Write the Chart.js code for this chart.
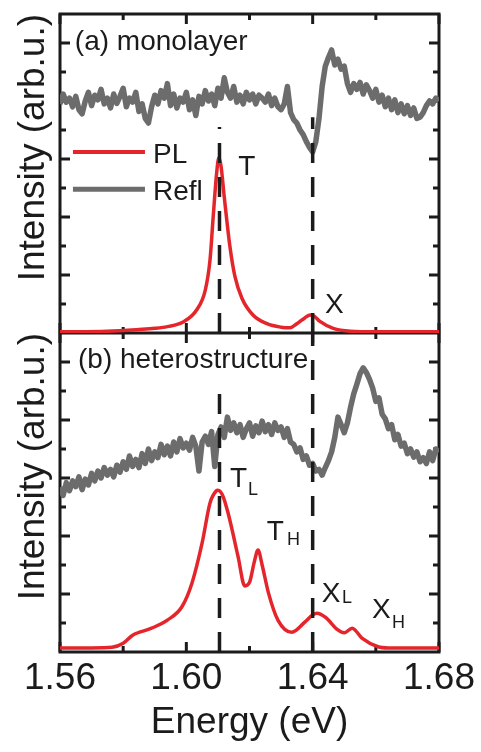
<!DOCTYPE html>
<html>
<head>
<meta charset="utf-8">
<script src="https://cdn.jsdelivr.net/npm/chart.js@4.4.1/dist/chart.umd.min.js"></script>
<style>
html,body{margin:0;padding:0;background:#fff;}
#wrap{width:481px;height:752px;position:relative;}
</style>
</head>
<body>
<div id="wrap"><canvas id="c" width="481" height="752"></canvas></div>
<script>
// ---------------- data ----------------
const energyGrid = [
 1.560,1.561,1.562,1.563,1.564,1.565,1.566,1.567,1.568,1.569,
 1.570,1.571,1.572,1.573,1.574,1.575,1.576,1.577,1.578,1.579,
 1.580,1.581,1.582,1.583,1.584,1.585,1.586,1.587,1.588,1.589,
 1.590,1.591,1.592,1.593,1.594,1.595,1.596,1.597,1.598,1.599,
 1.600,1.601,1.602,1.603,1.604,1.605,1.606,1.607,1.608,1.609,
 1.610,1.611,1.612,1.613,1.614,1.615,1.616,1.617,1.618,1.619,
 1.620,1.621,1.622,1.623,1.624,1.625,1.626,1.627,1.628,1.629,
 1.630,1.631,1.632,1.633,1.634,1.635,1.636,1.637,1.638,1.639,
 1.640,1.641,1.642,1.643,1.644,1.645,1.646,1.647,1.648,1.649,
 1.650,1.651,1.652,1.653,1.654,1.655,1.656,1.657,1.658,1.659,
 1.660,1.661,1.662,1.663,1.664,1.665,1.666,1.667,1.668,1.669,
 1.670,1.671,1.672,1.673,1.674,1.675,1.676,1.677,1.678,1.679,
 1.680];

// (a) monolayer reflectance
const reflA = [
 3.95,4.12,3.98,4.05,3.90,4.08,3.85,3.78,4.00,4.15,
 3.92,4.10,4.02,4.20,3.95,4.05,3.88,4.12,3.96,4.08,
 4.22,3.90,4.05,3.98,4.15,3.82,3.95,3.70,3.62,3.90,
 4.10,3.95,4.18,4.05,4.30,3.92,4.12,3.88,4.05,3.98,
 4.15,3.85,4.02,3.75,4.08,3.95,4.18,4.00,4.12,3.92,
 4.22,4.05,4.40,4.15,4.05,4.25,3.98,4.10,3.95,4.15,
 4.02,4.12,3.95,4.10,4.05,3.98,4.12,3.92,4.05,3.90,
 3.85,3.95,4.25,3.80,3.68,3.62,3.50,3.42,3.30,3.20,
 3.12,3.30,3.70,4.25,4.60,4.75,4.88,4.62,4.72,4.55,
 4.60,4.30,4.15,4.30,4.20,4.32,4.12,4.28,4.18,4.05,
 4.20,3.98,4.10,3.90,4.05,3.85,4.02,3.80,3.95,3.78,
 3.92,3.75,3.88,3.70,3.72,3.80,3.92,4.00,3.95,4.05,
 4.00];

// (b) heterostructure reflectance
const reflB = [
 2.84,2.70,2.92,2.78,2.95,2.85,3.02,2.80,2.98,2.88,
 3.08,2.95,3.12,3.00,3.18,3.05,3.15,3.02,3.22,3.10,
 3.28,3.15,3.38,3.20,3.32,3.18,3.42,3.25,3.50,3.30,
 3.45,3.35,3.58,3.40,3.55,3.38,3.62,3.45,3.68,3.52,
 3.60,3.48,3.70,3.55,3.12,3.62,3.72,3.58,3.80,3.20,
 3.75,3.88,3.70,4.05,3.82,3.95,3.78,3.92,3.70,3.85,
 3.95,3.72,3.90,3.78,3.98,3.80,3.92,3.75,3.95,3.82,
 3.88,3.70,3.85,3.62,3.58,3.45,3.52,3.32,3.38,3.22,
 3.25,3.12,3.15,3.05,3.18,3.30,3.45,3.70,4.05,3.92,
 3.78,3.95,4.22,4.45,4.62,4.80,4.90,4.82,4.70,4.55,
 4.32,4.38,4.10,4.02,3.85,3.92,3.66,3.75,3.55,3.60,
 3.42,3.50,3.36,3.45,3.28,3.35,3.25,3.45,3.30,3.50,
 3.45];

// (a) monolayer PL
const plAEnergy = [1.560,1.575,1.585,1.590,1.594,1.599,1.6033,1.606,1.6075,1.6085,1.6096,1.6103,1.611,1.612,1.6138,1.6154,1.6176,1.6211,1.6255,1.630,1.6328,1.635,1.6375,1.6392,1.6405,1.6423,1.6465,1.652,1.660,1.680];
const plAValue  = [0.02,0.03,0.06,0.08,0.11,0.19,0.40,0.74,1.26,2.00,2.76,3.02,2.87,2.35,1.49,0.97,0.60,0.31,0.16,0.10,0.09,0.16,0.26,0.31,0.29,0.20,0.08,0.03,0.02,0.02];

// (b) heterostructure PL
const plBEnergy = [1.560,1.570,1.5765,1.580,1.583,1.589,1.594,1.5986,1.6018,1.605,1.6075,1.6095,1.610,1.6115,1.6132,1.6164,1.6185,1.620,1.6215,1.6227,1.624,1.626,1.629,1.6334,1.6376,1.640,1.6414,1.644,1.648,1.650,1.6525,1.6556,1.6607,1.664,1.680];
const plBValue  = [0.07,0.07,0.08,0.15,0.29,0.41,0.55,0.78,1.19,1.88,2.57,2.78,2.79,2.70,2.40,1.64,1.14,1.20,1.55,1.76,1.50,1.02,0.55,0.34,0.52,0.64,0.67,0.60,0.38,0.33,0.41,0.24,0.09,0.07,0.07];

// dashed guide lines (T and X energies) and their upper ends per panel
const dashEnergies = [1.6105, 1.640];
const dashTopA = [3.55, 3.72];
const dashTopB = [4.64, 5.5];

// axis ticks
const xMajorTicks = [1.56, 1.60, 1.64, 1.68];
const xTickLabels = ['1.56', '1.60', '1.64', '1.68'];
const xMinorTicks = [1.58, 1.62, 1.66];
const yMajorTicks = [1, 2, 3, 4, 5];
const yMinorTicks = [0.5, 1.5, 2.5, 3.5, 4.5];

// text labels
const panelTitles = ['(a) monolayer', '(b) heterostructure'];
const seriesNames = ['PL', 'Refl'];

// ---------------- styles / layout ----------------
const FONT = "'Liberation Sans', Arial, Helvetica, sans-serif";
const RED = '#e4262c';
const GRAY = '#6c6c6c';
const INK = '#1b1b1b';

const textItems = [
  {axis:'yA', text:panelTitles[0], e:1.5647, v:4.88, size:28},
  {axis:'yB', text:panelTitles[1], e:1.5657, v:4.90, size:28},
  {axis:'yA', text:'T', e:1.6164, v:2.72, size:28},
  {axis:'yA', text:'X', e:1.6439, v:0.345, size:28},
  {axis:'yB', text:'T', e:1.6138, v:2.84, size:28},
  {axis:'yB', text:'L', e:1.6195, v:2.71, size:18},
  {axis:'yB', text:'T', e:1.6255, v:1.93, size:28},
  {axis:'yB', text:'H', e:1.6319, v:1.84, size:18},
  {axis:'yB', text:'X', e:1.6429, v:0.86, size:28},
  {axis:'yB', text:'L', e:1.6493, v:0.845, size:18},
  {axis:'yB', text:'X', e:1.6588, v:0.59, size:28},
  {axis:'yB', text:'H', e:1.6651, v:0.41, size:18}
];
const legendItems = [
  {text:seriesNames[0], color:RED, width:4, e0:1.5641, e1:1.5869, v:3.12, tv:2.93},
  {text:seriesNames[1], color:GRAY, width:5, e0:1.5641, e1:1.5869, v:2.48, tv:2.29}
];

const toXY = (xs, ys) => xs.map((x, i) => ({x: x, y: ys[i]}));

function dashSet(e, top, axis) {
  return {data: toXY([e, e], [0, top]), yAxisID: axis, borderColor: INK, borderWidth: 3.5,
          borderDash: [20, 14], pointRadius: 0, fill: false, order: 0};
}

const framePlugin = {
  id: 'frame',
  beforeDatasetsDraw(chart) {
    const ctx = chart.ctx, ca = chart.chartArea, xs = chart.scales.x;
    const MAJ = 10, MIN = 6;
    ctx.save();
    ctx.strokeStyle = INK;
    ctx.lineWidth = 3;
    const seg = (x1, y1, x2, y2) => { ctx.beginPath(); ctx.moveTo(x1, y1); ctx.lineTo(x2, y2); ctx.stroke(); };
    ['yA', 'yB'].forEach(id => {
      const ys = chart.scales[id];
      const top = ys.top, bot = ys.bottom;
      xMajorTicks.forEach(v => { const p = xs.getPixelForValue(v); seg(p, top, p, top + MAJ); seg(p, bot, p, bot - MAJ); });
      xMinorTicks.forEach(v => { const p = xs.getPixelForValue(v); seg(p, top, p, top + MIN); seg(p, bot, p, bot - MIN); });
      yMajorTicks.forEach(v => { const p = ys.getPixelForValue(v); seg(ca.left, p, ca.left + MAJ, p); seg(ca.right, p, ca.right - MAJ, p); });
      yMinorTicks.forEach(v => { const p = ys.getPixelForValue(v); seg(ca.left, p, ca.left + MIN, p); seg(ca.right, p, ca.right - MIN, p); });
    });
    ctx.strokeRect(ca.left, ca.top, ca.right - ca.left, ca.bottom - ca.top);
    const sep = chart.scales.yA.bottom;
    seg(ca.left, sep, ca.right, sep);
    ctx.restore();
  },
  afterDatasetsDraw(chart) {
    const ctx = chart.ctx, xs = chart.scales.x;
    ctx.save();
    ctx.fillStyle = INK;
    ctx.textAlign = 'left';
    ctx.textBaseline = 'alphabetic';
    textItems.forEach(t => {
      ctx.font = t.size + 'px ' + FONT;
      ctx.fillText(t.text, xs.getPixelForValue(t.e), chart.scales[t.axis].getPixelForValue(t.v));
    });
    const ya = chart.scales.yA;
    legendItems.forEach(l => {
      ctx.strokeStyle = l.color;
      ctx.lineWidth = l.width;
      const y = ya.getPixelForValue(l.v);
      ctx.beginPath();
      ctx.moveTo(xs.getPixelForValue(l.e0), y);
      ctx.lineTo(xs.getPixelForValue(l.e1), y);
      ctx.stroke();
      ctx.font = '28px ' + FONT;
      ctx.fillStyle = INK;
      ctx.fillText(l.text, xs.getPixelForValue(l.e1) + 8, ya.getPixelForValue(l.tv));
    });
    ctx.restore();
  }
};

const yAxis = (extra) => Object.assign({
  type: 'linear', position: 'left', stack: 'panels', stackWeight: 1,
  min: 0, max: 5.5,
  ticks: {display: false},
  grid: {display: false, drawTicks: false},
  border: {display: false},
  title: {display: true, text: 'Intensity (arb.u.)', align: 'end',
          font: {family: FONT, size: 37}, color: INK, padding: {top: 12, bottom: 0}},
  afterFit: s => { s.width = 60; }
}, extra);

new Chart(document.getElementById('c'), {
  type: 'line',
  data: {
    datasets: [
      dashSet(dashEnergies[0], dashTopA[0], 'yA'),
      dashSet(dashEnergies[1], dashTopA[1], 'yA'),
      dashSet(dashEnergies[0], dashTopB[0], 'yB'),
      dashSet(dashEnergies[1], dashTopB[1], 'yB'),
      {label: 'PL', data: toXY(plAEnergy, plAValue), yAxisID: 'yA', borderColor: RED, borderWidth: 3.5,
       pointRadius: 0, cubicInterpolationMode: 'monotone', order: 1},
      {label: 'PL', data: toXY(plBEnergy, plBValue), yAxisID: 'yB', borderColor: RED, borderWidth: 3.5,
       pointRadius: 0, cubicInterpolationMode: 'monotone', order: 1},
      {label: 'Refl', data: toXY(energyGrid, reflA), yAxisID: 'yA', borderColor: GRAY, borderWidth: 5.5,
       pointRadius: 0, tension: 0, borderJoinStyle: 'round', order: 2},
      {label: 'Refl', data: toXY(energyGrid, reflB), yAxisID: 'yB', borderColor: GRAY, borderWidth: 5.5,
       pointRadius: 0, tension: 0, borderJoinStyle: 'round', order: 2}
    ]
  },
  options: {
    responsive: false,
    animation: false,
    devicePixelRatio: 1,
    layout: {padding: {left: 0, right: 42, top: 14, bottom: 0}},
    plugins: {legend: {display: false}, tooltip: {enabled: false}},
    scales: {
      x: {
        type: 'linear', position: 'bottom', min: 1.56, max: 1.68,
        afterBuildTicks: s => { s.ticks = xMajorTicks.map(v => ({value: v})); },
        ticks: {callback: (v, i) => xTickLabels[i], font: {family: FONT, size: 37}, color: INK,
                padding: 5, maxRotation: 0, autoSkip: false},
        grid: {display: false, drawTicks: false},
        border: {display: false},
        title: {display: true, text: 'Energy (eV)', font: {family: FONT, size: 37}, color: INK,
                padding: {top: 0, bottom: 7}},
        afterFit: s => { s.height = 100; }
      },
      // bottom panel is listed first: the stacked layout puts the first one at the bottom
      yB: yAxis({}),
      yA: yAxis({})
    }
  },
  plugins: [framePlugin]
});
</script>
</body>
</html>
